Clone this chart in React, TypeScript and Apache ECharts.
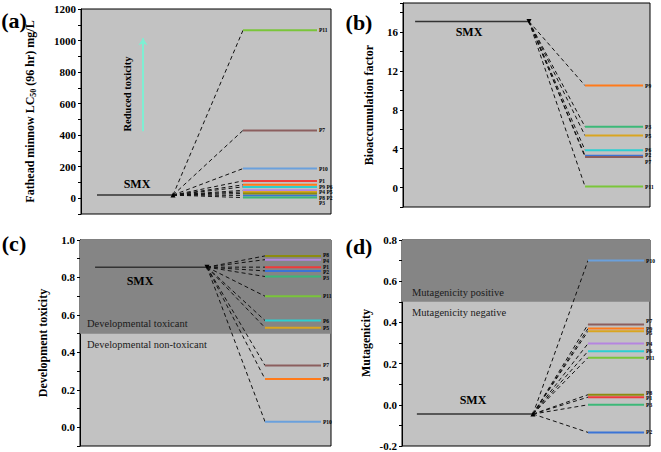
import React, { useEffect, useRef } from "react";
import * as echarts from "echarts";

const FONT = "'Liberation Serif', 'Times New Roman', serif";

const products = ["P1", "P2", "P3", "P4", "P5", "P6", "P7", "P8", "P9", "P10", "P11"];
const productColors = ["#ee3b3b", "#3b74d6", "#3cb878", "#b585e0", "#d9a520", "#2ccfd0", "#8b5e5e", "#8c8c10", "#ff7a1a", "#6aa0dc", "#7ac53a"];

// (a) Fathead minnow LC50
const aSmx = 20;
const aValues = [110, 18, 4, 50, 40, 72, 430, 30, 85, 188, 1065];
const aLabels = ["P1", "", "P3", "P4 P5", "", "", "P7", "P8 P2", "P9 P6", "P10", "P11"];
const aLabelShift = [0, 0, 5.4, 1.7, 0, 0, 0, 4, 1.7, 0, 0];

// (b) Bioaccumulation factor
const bSmx = 17.1;
const bValues = [null, 3.28, 6.25, null, 5.35, 3.85, 3.15, null, 10.5, null, 0.1];
const bLabels = products;
const bLabelShift = [0, -1, 0, 0, 0, 0, 5, 0, 0, 0, 0];

// (c) Development toxicity
const cSmx = 0.855;
const cValues = [0.855, 0.835, 0.805, 0.895, 0.532, 0.57, 0.33, 0.915, 0.258, 0.03, 0.7];
const cLabels = products;
const cLabelShift = [0, 1, 1, 1, 0, 0, 0, -1, 0, 0, 0];

// (d) Mutagenicity
const dSmx = -0.045;
const dValues = [0.037, -0.134, 0.0, 0.297, 0.357, 0.26, 0.39, 0.049, 0.37, 0.7, 0.229];
const dLabels = products;
const dLabelShift = [1, 0, 0, 0, 2, 0, -3, -2, 0, 0, 0];

const yTicksA = { min: -100, max: 1200, interval: 100 };
const yTicksB = { min: -2, max: 19, interval: 2 };
const yTicksC = { min: -0.1, max: 1.0, interval: 0.1 };
const yTicksD = { min: -0.2, max: 0.8, interval: 0.2 };

type Lay = { s0: number; s1: number; p0: number; p1: number };
const layA: Lay = { s0: 6.4, s1: 36.8, p0: 64.8, p1: 94.4 };
const layB: Lay = { s0: 4.9, s1: 51, p0: 73.7, p1: 97.2 };
const layC: Lay = { s0: 6, s1: 50.6, p0: 73.7, p1: 96 };
const layD: Lay = { s0: 6, s1: 52.8, p0: 75, p1: 97.6 };

function panelSeries(
  idx: number,
  smx: number,
  values: (number | null)[],
  labels: string[],
  shifts: number[],
  L: Lay,
  triRot: number
): any[] {
  const out: any[] = [];
  out.push({
    type: "line",
    xAxisIndex: idx,
    yAxisIndex: idx,
    z: 5,
    silent: true,
    symbol: "none",
    showSymbol: true,
    data: [[L.s0, smx], { value: [L.s1, smx], symbol: "triangle", symbolSize: 5, symbolRotate: triRot }],
    lineStyle: { color: "#333", width: 1.5 },
    itemStyle: { color: "#000" },
  });
  values.forEach((v, i) => {
    if (v === null || v === undefined) return;
    out.push({
      type: "line",
      xAxisIndex: idx,
      yAxisIndex: idx,
      z: 3,
      silent: true,
      symbol: "none",
      data: [[L.s1, smx], [L.p0, v]],
      lineStyle: { color: "#111", width: 1, type: [4, 3] },
    });
    const lab = labels[i];
    out.push({
      type: "line",
      xAxisIndex: idx,
      yAxisIndex: idx,
      z: 4,
      silent: true,
      symbol: "none",
      data: [[L.p0, v], [L.p1, v]],
      lineStyle: { color: productColors[i], width: 2 },
      endLabel: lab
        ? {
            show: true,
            formatter: lab,
            fontSize: 5.5,
            lineHeight: 6,
            fontWeight: "bold",
            fontFamily: FONT,
            color: "#000",
            distance: 2,
            offset: [0, shifts[i] || 0],
          }
        : { show: false },
    });
  });
  return out;
}

function bandSeries(idx: number, from: number, to: number): any {
  return {
    type: "line",
    xAxisIndex: idx,
    yAxisIndex: idx,
    z: 1,
    silent: true,
    symbol: "none",
    data: [[0, from]],
    lineStyle: { opacity: 0 },
    markArea: {
      silent: true,
      itemStyle: { color: "#858585" },
      data: [[{ yAxis: from }, { yAxis: to }]],
    },
  };
}

const axisText = { color: "#000", fontSize: 11, fontWeight: "bold", fontFamily: FONT };
const nameText = { color: "#000", fontSize: 12, fontWeight: "bold", fontFamily: FONT };

function yAxisBase(idx: number, t: any, fmt: (v: number) => string, name: string, gap: number, extra: any = {}): any {
  return {
    gridIndex: idx,
    type: "value",
    min: t.min,
    max: t.max,
    interval: t.interval,
    name,
    nameLocation: "middle",
    nameRotate: 90,
    nameGap: gap,
    nameTextStyle: nameText,
    axisLine: { show: true, lineStyle: { color: "#000", width: 1 } },
    axisTick: { show: true, length: 3, lineStyle: { color: "#000" } },
    axisLabel: { ...axisText, margin: 5, formatter: fmt },
    splitLine: { show: false },
    ...extra,
  };
}

export default function App() {
  const ref = useRef<HTMLDivElement>(null);
  useEffect(() => {
    if (!ref.current) return;
    const chart = echarts.init(ref.current, null, { renderer: "svg" });
    const grids = [
      { left: 81, top: 9, width: 250, height: 205 },
      { left: 403, top: 3, width: 247, height: 204 },
      { left: 80, top: 240, width: 251, height: 206 },
      { left: 402, top: 240, width: 248, height: 206 },
    ].map((g) => ({ ...g, show: true, backgroundColor: "#c2c2c2", borderColor: "#000", borderWidth: 1, containLabel: false }));

    const xAxes = [0, 1, 2, 3].map((i) => ({ gridIndex: i, type: "value", min: 0, max: 100, show: false }));

    const yAxes = [
      yAxisBase(0, yTicksA, (v: number) => (v % 200 === 0 ? String(v) : ""), "Fathead minnow LC{sub|50} (96 hr) mg/L", 44, {
        nameTextStyle: {
          ...nameText,
          rich: { sub: { fontSize: 8, fontWeight: "bold", fontFamily: FONT, color: "#000", padding: [7, 0, 0, 0] } },
        },
      }),
      yAxisBase(1, yTicksB, (v: number) => (Math.round(v) % 4 === 0 ? String(Math.round(v)) : ""), "Bioaccumulation factor", 28),
      yAxisBase(2, yTicksC, (v: number) => {
        const r = Math.round(v * 10);
        return r % 2 === 0 ? (r / 10).toFixed(1) : "";
      }, "Development toxicity", 31),
      yAxisBase(3, yTicksD, (v: number) => (Math.round(v * 10) / 10).toFixed(1), "Mutagenicity", 30, {
        minorTick: { show: true, splitNumber: 2, length: 3, lineStyle: { color: "#000" } },
      }),
    ];

    const series: any[] = [
      bandSeries(2, 0.5, 1.0),
      bandSeries(3, 0.5, 0.8),
      ...panelSeries(0, aSmx, aValues, aLabels, aLabelShift, layA, 0),
      ...panelSeries(1, bSmx, bValues, bLabels, bLabelShift, layB, 180),
      ...panelSeries(2, cSmx, cValues, cLabels, cLabelShift, layC, 180),
      ...panelSeries(3, dSmx, dValues, dLabels, dLabelShift, layD, 0),
      {
        type: "line",
        xAxisIndex: 0,
        yAxisIndex: 0,
        z: 2,
        silent: true,
        symbol: "none",
        data: [],
        markLine: {
          silent: true,
          symbol: ["none", "arrow"],
          symbolSize: 7,
          label: { show: false },
          lineStyle: { color: "#7eeed2", width: 2, type: "solid" },
          data: [[{ coord: [24.8, 425] }, { coord: [24.8, 1015] }]],
        },
      },
    ];

    const txt = (x: number, y: number, text: string, size: number, weight: string, extra: any = {}) => ({
      type: "text",
      x,
      y,
      z: 100,
      zlevel: 0,
      silent: true,
      style: { text, fontSize: size, fontWeight: weight, fontFamily: FONT, fill: "#000", align: "center", verticalAlign: "middle", ...extra },
    });

    const graphic: any[] = [
      txt(14, 20, "(a)", 22, "bold"),
      txt(359, 22, "(b)", 22, "bold"),
      txt(14, 243, "(c)", 22, "bold"),
      txt(359, 246, "(d)", 22, "bold"),
      txt(137, 184, "SMX", 12, "bold"),
      txt(469, 32, "SMX", 12, "bold"),
      txt(140, 281, "SMX", 12, "bold"),
      txt(473, 400, "SMX", 12, "bold"),
      { ...txt(127, 94, "Reduced toxicity", 10.5, "bold"), rotation: Math.PI / 2 },
      txt(87, 323, "Developmental toxicant", 10.5, "normal", { align: "left", fill: "#1a1a1a" }),
      txt(87, 344, "Developmental non-toxicant", 10.5, "normal", { align: "left", fill: "#1a1a1a" }),
      txt(412, 292, "Mutagenicity positive", 10.5, "normal", { align: "left", fill: "#1a1a1a" }),
      txt(412, 312, "Mutagenicity negative", 10.5, "normal", { align: "left", fill: "#1a1a1a" }),
    ];

    chart.setOption({
      animation: false,
      backgroundColor: "#fff",
      grid: grids,
      xAxis: xAxes,
      yAxis: yAxes,
      series,
      graphic: { elements: graphic },
    });
    return () => chart.dispose();
  }, []);
  return <div ref={ref} style={{ position: "absolute", left: 0, top: 0, width: 661, height: 452 }} />;
}
